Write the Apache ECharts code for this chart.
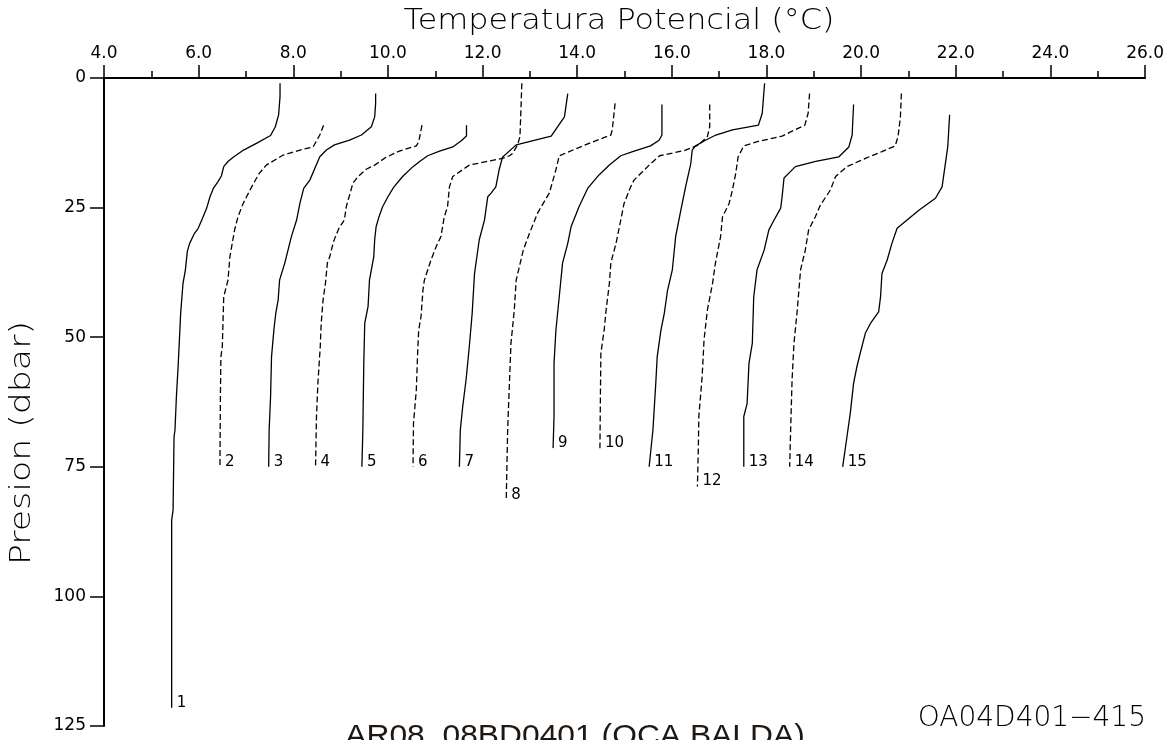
<!DOCTYPE html>
<html>
<head>
<meta charset="utf-8">
<title>Temperatura Potencial</title>
<script src="https://cdn.jsdelivr.net/npm/echarts@6/dist/echarts.min.js"></script>
<style>
  html, body { margin: 0; padding: 0; background: #fff; }
  #chart { width: 1167px; height: 740px; }
</style>
</head>
<body>
<div id="chart"></div>
<script>
// Potential temperature profiles (°C) vs pressure (dbar), stations 401-415.
// Each successive profile is shifted by OFFSET_STEP degrees on the x axis.
const OFFSET_STEP = 1.0;
const xTicks = [4, 6, 8, 10, 12, 14, 16, 18, 20, 22, 24, 26];
const yTicks = [0, 25, 50, 75, 100, 125];

const p01 = [1.0, 3.6, 7.1, 9.4, 11.1, 12.6, 13.9, 15.3, 16.1, 17.1, 18.9, 20.0, 21.3, 22.9, 25.1, 27.1, 29.0, 30.0, 31.9, 33.5, 37.0, 39.6, 45.4, 55.0, 61.5, 67.9, 69.2, 83.3, 85.3, 121.5];
const t01 = [7.72, 7.72, 7.69, 7.62, 7.52, 7.22, 6.95, 6.73, 6.62, 6.53, 6.48, 6.41, 6.31, 6.24, 6.17, 6.08, 5.99, 5.91, 5.81, 5.76, 5.72, 5.67, 5.62, 5.57, 5.53, 5.50, 5.48, 5.46, 5.43, 5.43];

const p02 = [9.1, 11.0, 13.3, 13.9, 14.9, 16.8, 18.4, 21.0, 24.2, 26.8, 29.3, 31.9, 34.5, 39.0, 42.2, 51.8, 53.8, 61.5, 75.0];
const t02 = [7.64, 7.56, 7.42, 7.14, 6.78, 6.43, 6.28, 6.12, 5.94, 5.83, 5.76, 5.71, 5.66, 5.62, 5.53, 5.50, 5.47, 5.46, 5.45];

const p03 = [3.0, 4.9, 7.5, 9.4, 11.0, 12.0, 12.9, 13.9, 15.2, 17.1, 19.7, 21.3, 24.2, 27.4, 30.6, 35.7, 39.0, 42.8, 45.4, 48.6, 53.8, 61.5, 67.9, 75.0];
const t03 = [7.74, 7.74, 7.72, 7.65, 7.44, 7.19, 6.87, 6.70, 6.56, 6.47, 6.35, 6.22, 6.14, 6.07, 5.96, 5.82, 5.71, 5.68, 5.63, 5.59, 5.54, 5.52, 5.49, 5.48];

const p04 = [9.1, 12.3, 13.1, 14.1, 15.3, 16.8, 17.6, 19.0, 20.3, 22.9, 24.8, 27.4, 28.7, 30.6, 31.9, 34.5, 35.7, 39.6, 42.8, 47.3, 51.8, 58.9, 65.3, 75.0];
const t04 = [7.72, 7.65, 7.60, 7.24, 6.96, 6.72, 6.54, 6.37, 6.26, 6.18, 6.12, 6.08, 5.98, 5.89, 5.84, 5.77, 5.72, 5.68, 5.63, 5.59, 5.57, 5.52, 5.49, 5.47];

const p05 = [9.1, 11.2, 12.1, 13.3, 14.1, 15.0, 16.1, 17.1, 19.0, 21.1, 22.9, 24.8, 26.8, 28.7, 31.2, 34.5, 39.0, 44.1, 47.3, 55.0, 67.9, 75.0];
const t05 = [7.66, 7.66, 7.55, 7.37, 7.09, 6.84, 6.67, 6.53, 6.31, 6.12, 6.00, 5.89, 5.81, 5.75, 5.72, 5.70, 5.61, 5.58, 5.51, 5.49, 5.47, 5.45];

const p06 = [1.0, 11.3, 12.9, 14.5, 15.0, 15.5, 16.8, 19.0, 21.0, 24.8, 26.8, 30.6, 32.5, 35.1, 39.0, 40.9, 46.0, 48.6, 52.5, 60.2, 66.6, 75.0];
const t06 = [7.83, 7.79, 7.74, 7.64, 7.57, 7.42, 6.72, 6.37, 6.30, 6.26, 6.19, 6.12, 6.02, 5.91, 5.77, 5.74, 5.70, 5.65, 5.63, 5.60, 5.54, 5.53];

const p07 = [3.0, 7.5, 11.2, 12.9, 15.3, 17.7, 21.0, 22.2, 22.9, 27.4, 31.2, 37.7, 45.4, 51.8, 58.3, 63.4, 67.9, 75.0];
const t07 = [7.80, 7.73, 7.45, 6.71, 6.42, 6.35, 6.28, 6.18, 6.11, 6.04, 5.93, 5.83, 5.78, 5.72, 5.65, 5.58, 5.53, 5.51];

const p08 = [4.9, 10.0, 11.0, 12.6, 15.0, 17.7, 22.2, 23.9, 26.1, 30.0, 33.2, 39.0, 44.8, 51.2, 58.3, 67.9, 81.4];
const t08 = [7.80, 7.74, 7.71, 7.25, 6.62, 6.55, 6.41, 6.30, 6.16, 5.99, 5.86, 5.71, 5.67, 5.60, 5.57, 5.53, 5.50];

const p09 = [5.1, 11.0, 12.0, 13.1, 14.2, 15.0, 16.8, 18.7, 21.3, 24.8, 28.7, 31.9, 35.7, 42.2, 48.6, 55.0, 65.3, 71.4];
const t09 = [7.79, 7.79, 7.73, 7.55, 7.17, 6.92, 6.68, 6.46, 6.22, 6.04, 5.87, 5.80, 5.69, 5.62, 5.55, 5.51, 5.51, 5.49];

const p10 = [5.1, 9.4, 11.3, 12.9, 13.9, 14.5, 15.0, 16.8, 19.7, 21.0, 24.2, 27.4, 31.9, 35.7, 39.6, 44.8, 48.6, 53.1, 61.5, 71.4];
const t10 = [7.80, 7.80, 7.75, 7.57, 7.29, 7.01, 6.74, 6.52, 6.20, 6.13, 5.99, 5.92, 5.82, 5.71, 5.68, 5.61, 5.57, 5.50, 5.49, 5.48];

const p11 = [1.0, 6.8, 9.1, 10.0, 11.0, 12.0, 13.1, 13.9, 16.5, 21.0, 25.5, 30.6, 37.0, 40.9, 45.4, 48.6, 53.8, 58.9, 67.9, 75.0];
const t11 = [7.96, 7.91, 7.83, 7.28, 6.93, 6.71, 6.50, 6.43, 6.40, 6.29, 6.19, 6.08, 6.01, 5.91, 5.84, 5.77, 5.69, 5.66, 5.60, 5.52];

const p12 = [3.0, 6.8, 9.1, 10.4, 11.2, 12.2, 13.1, 15.2, 18.4, 21.6, 24.2, 26.8, 30.6, 35.7, 39.6, 44.8, 50.5, 57.6, 65.3, 71.1, 78.8];
const t12 = [7.91, 7.88, 7.81, 7.51, 7.33, 6.84, 6.52, 6.40, 6.35, 6.28, 6.21, 6.07, 6.03, 5.92, 5.86, 5.75, 5.68, 5.64, 5.57, 5.56, 5.54];

const p13 = [5.1, 11.0, 13.3, 15.2, 16.1, 17.1, 19.3, 22.9, 25.1, 27.4, 29.3, 33.2, 37.0, 42.2, 51.2, 55.0, 62.8, 65.3, 75.0];
const t13 = [7.84, 7.81, 7.74, 7.53, 7.04, 6.61, 6.37, 6.33, 6.30, 6.16, 6.05, 5.95, 5.80, 5.73, 5.70, 5.63, 5.59, 5.52, 5.52];

const p14 = [3.0, 7.5, 11.3, 13.1, 14.2, 15.5, 17.1, 19.0, 21.6, 24.5, 26.8, 29.3, 33.2, 37.0, 44.8, 51.2, 58.3, 67.9, 75.0];
const t14 = [7.85, 7.83, 7.78, 7.72, 7.44, 7.09, 6.70, 6.46, 6.35, 6.14, 6.03, 5.89, 5.82, 5.72, 5.65, 5.58, 5.54, 5.51, 5.49];

const p15 = [7.1, 13.3, 16.5, 21.0, 23.2, 25.5, 29.0, 31.9, 35.1, 37.7, 42.2, 45.1, 47.3, 49.2, 53.1, 55.7, 58.9, 64.7, 69.2, 75.0];
const t15 = [7.87, 7.83, 7.78, 7.71, 7.57, 7.22, 6.76, 6.65, 6.55, 6.44, 6.41, 6.37, 6.20, 6.09, 5.98, 5.91, 5.84, 5.77, 5.70, 5.61];

const stationLabels = ['1', '2', '3', '4', '5', '6', '7', '8', '9', '10', '11', '12', '13', '14', '15'];
const pressures = [p01, p02, p03, p04, p05, p06, p07, p08, p09, p10, p11, p12, p13, p14, p15];
const temps = [t01, t02, t03, t04, t05, t06, t07, t08, t09, t10, t11, t12, t13, t14, t15];

const THIN_FONT = '"DejaVu Sans", sans-serif';

const series = stationLabels.map(function (name, i) {
  const shift = i * OFFSET_STEP;
  return {
    type: 'line',
    name: name,
    data: pressures[i].map(function (p, k) { return [temps[i][k] + shift, p]; }),
    symbol: 'none',
    showSymbol: false,
    silent: true,
    animation: false,
    lineStyle: { color: '#000', width: 1.3, type: i % 2 === 1 ? [6, 3] : 'solid' },
    endLabel: {
      show: true,
      formatter: '{a}',
      color: '#000',
      fontFamily: THIN_FONT,
      fontSize: 15,
      distance: 5,
      offset: [0, -5]
    }
  };
});

const chart = echarts.init(document.getElementById('chart'), null, { renderer: 'canvas' });
chart.setOption({
  backgroundColor: '#fff',
  animation: false,
  grid: { left: 104, right: 20, top: 78, bottom: 14, containLabel: false },
  xAxis: {
    type: 'value',
    position: 'top',
    min: xTicks[0],
    max: xTicks[xTicks.length - 1],
    interval: 2,
    axisLine: { show: true, lineStyle: { color: '#000', width: 2 } },
    axisTick: { show: true, length: 13, lineStyle: { color: '#000', width: 1.5 } },
    minorTick: { show: true, splitNumber: 2, length: 7, lineStyle: { color: '#000', width: 1.5 } },
    splitLine: { show: false },
    axisLabel: {
      margin: 16,
      color: '#000',
      fontFamily: THIN_FONT,
      fontSize: 17,
      formatter: function (v) { return v.toFixed(1); }
    }
  },
  yAxis: {
    type: 'value',
    inverse: true,
    min: yTicks[0],
    max: yTicks[yTicks.length - 1],
    interval: 25,
    axisLine: { show: true, lineStyle: { color: '#000', width: 2 } },
    axisTick: { show: true, length: 14, lineStyle: { color: '#000', width: 1.5 } },
    splitLine: { show: false },
    axisLabel: {
      margin: 18,
      color: '#000',
      fontFamily: THIN_FONT,
      fontSize: 17
    }
  },
  graphic: [
    {
      type: 'text', x: 619, y: 21, scaleX: 1.1,
      style: { text: 'Temperatura Potencial (°C)', fill: '#000', font: 'lighter 29px ' + THIN_FONT, textAlign: 'center', textVerticalAlign: 'middle' }
    },
    {
      type: 'text', x: 23, y: 443, rotation: Math.PI / 2, scaleX: 1.24,
      style: { text: 'Presion (dbar)', fill: '#000', font: 'lighter 28px ' + THIN_FONT, textAlign: 'center', textVerticalAlign: 'middle' }
    },
    {
      type: 'text', x: 1146, y: 719,
      style: { text: 'OA04D401\u2212415', fill: '#000', font: 'lighter 28px ' + THIN_FONT, textAlign: 'right', textVerticalAlign: 'middle' }
    },
    {
      type: 'text', x: 575, y: 722, scaleX: 1.06,
      style: { text: 'AR08_08BD0401 (OCA BALDA)', fill: '#1e1712', font: '30px "Liberation Sans", Arial, sans-serif', textAlign: 'center', textVerticalAlign: 'top' }
    }
  ],
  series: series
});
</script>
</body>
</html>
